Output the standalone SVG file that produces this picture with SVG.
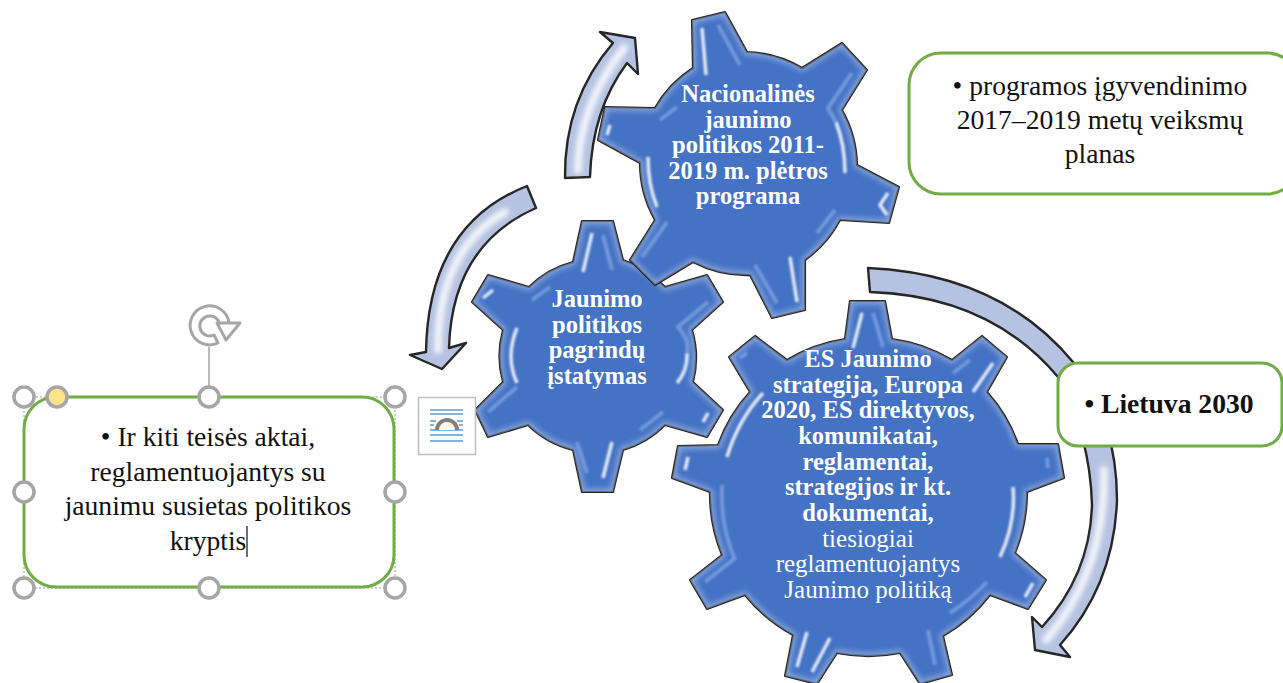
<svg xmlns="http://www.w3.org/2000/svg" width="1283" height="683" viewBox="0 0 1283 683">
<style>
.gear{fill:#4472c4;stroke:#262626;stroke-width:2.2;stroke-linejoin:round}
.glow{fill:none;stroke:#b9cdf0;stroke-width:6;filter:url(#b3);opacity:.65}
.hw{fill:none;stroke:#fff;stroke-width:3.500;stroke-linecap:butt;filter:url(#b1);opacity:.85}
.hf{fill:none;stroke:#86a9e6;stroke-width:4;stroke-linecap:butt;filter:url(#b1);opacity:.7}
.arrow{fill:#b5c2e1;stroke:#262626;stroke-width:2.4;stroke-linejoin:round}
.sheen{fill:none;stroke:#f7f9fd;stroke-width:8;stroke-linecap:round;filter:url(#b2);opacity:.9}
.box{fill:#fff;stroke:#70ad47;stroke-width:3}
.gt{font-family:"Liberation Serif","Times New Roman",serif;font-size:24.5px;fill:#fff;text-anchor:middle}
.bold{font-weight:bold}
.bt{font-family:"Liberation Serif","Times New Roman",serif;font-size:27.6px;fill:#111;text-anchor:middle}
.handle{fill:#fff;stroke:#a6a6a6;stroke-width:3.5}
.wrapl{stroke:#5b9bd5;stroke-width:1.5;fill:none}
</style>
<defs>
<filter id="b1" x="-50%" y="-50%" width="200%" height="200%"><feGaussianBlur stdDeviation="0.8"/></filter>
<filter id="b2" x="-30%" y="-30%" width="160%" height="160%"><feGaussianBlur stdDeviation="2.5"/></filter>
<filter id="b3" x="-10%" y="-10%" width="120%" height="120%"><feGaussianBlur stdDeviation="3"/></filter>
<path id="p1" d="M692,20 L725,12 L747,52 A116,116 0 0 1 802,68 L842,43 L867,70 L842,110 A116,116 0 0 1 857,165 L899,187 L889,223 L840,220 A116,116 0 0 1 805,260 L805,310 L772,318 L750,275 A116,116 0 0 1 693,262 L655,285 L630,260 L655,220 A116,116 0 0 1 640,163 L598,140 L605,107 L655,108 A116,116 0 0 1 693,68 Z"/>
<path id="p2" d="M582,221 L613,221 L623,260 A97,97 0 0 1 665,287 L707,275 L723,302 L692,330 A97,97 0 0 1 693,382 L723,410 L707,437 L665,425 A97,97 0 0 1 623,450 L613,492 L582,492 L573,450 A97,97 0 0 1 528,425 L488,437 L475,410 L503,382 A97,97 0 0 1 503,330 L472,302 L488,275 L529,287 A97,97 0 0 1 573,262 Z"/>
<path id="p3" d="M850,301 L885,301 L892,339 A155,155 0 0 1 952,360 L982,336 L1007,357 L987,392 A155,155 0 0 1 1018,444 L1058,444 L1064,478 L1027,492 A160,160 0 0 1 1015,553 L1046,580 L1028,609 L990,595 A160,160 0 0 1 943,636 L952,675 L920,684 L900,653 A160,160 0 0 1 837,653 L817,684 L785,676 L793,635 A160,160 0 0 1 745,595 L707,609 L690,580 L722,555 A160,160 0 0 1 710,492 L672,478 L678,446 L718,445 A155,155 0 0 1 750,392 L729,357 L755,336 L787,360 A155,155 0 0 1 845,339 Z"/>
<clipPath id="c1"><use href="#p1"/></clipPath>
<clipPath id="c2"><use href="#p2"/></clipPath>
<clipPath id="c3"><use href="#p3"/></clipPath>
</defs>
<rect width="1283" height="683" fill="#fff"/>
<g id="connectors">
<g id="arrow-up">
<path class="arrow" d="M565,178 Q564,100 613,43 L600,32 L635,38 L638,74 L627,63 Q592,110 590,177 Z"/>
<path class="sheen" d="M578,170 Q578,108 624,48"/>
</g>
<g id="arrow-down">
<path class="arrow" d="M527,186 Q428,225 426,352 L410,355 L442,369 L466,343 L449,348 Q452,245 536,208 Z"/>
<path class="sheen" d="M505,212 Q438,250 438,350"/>
</g>
<g id="arrow-cycle">
<path class="arrow" d="M868,268 Q1000,274 1073,362 Q1117,420 1117,500 Q1114,585 1060,645 L1070,657 L1035,650 L1032,617 L1042,627 Q1090,575 1092,505 Q1090,435 1058,377 Q990,296 870,292 Z"/>
<path class="sheen" d="M1104,470 Q1106,570 1046,640" stroke-width="7"/>
</g>
</g>
<g id="gear-es">
<use href="#p3" class="gear"/>
<g clip-path="url(#c3)"><use href="#p3" class="glow"/></g>
<path class="hw" d="M862,313 L853,348 M993,363 L973,392 M1013,487 Q1016,523 1000,557 M1033,583 L1025,597 M830,638 L812,672 M807,632 L797,667 M763,393 Q738,420 727,457 M688,457 L685,470"/>
<path class="hf" d="M873,313 L883,347 M970,360 L953,373 M987,582 Q970,600 950,613 M928,630 L935,665 M735,558 L705,582 M722,485 Q720,525 735,560 M747,353 L740,358 M1047,458 L1048,468"/>
<text class="gt"><tspan class="bold" x="868" y="367">ES Jaunimo</tspan><tspan class="bold" x="868" y="392.700">strategija, Europa</tspan><tspan class="bold" x="868" y="418.300">2020, ES direktyvos,</tspan><tspan class="bold" x="868" y="444">komunikatai,</tspan><tspan class="bold" x="868" y="469.700">reglamentai,</tspan><tspan class="bold" x="868" y="495.300">strategijos ir kt.</tspan><tspan class="bold" x="868" y="521">dokumentai,</tspan><tspan x="868" y="546.700" font-size="25">tiesiogiai</tspan><tspan x="868" y="572.300" font-size="25">reglamentuojantys</tspan><tspan x="868" y="598" font-size="25">Jaunimo politiką</tspan></text>
</g>
<g id="gear-pagrindu">
<use href="#p2" class="gear"/>
<g clip-path="url(#c2)"><use href="#p2" class="glow"/></g>
<path class="hw" d="M592,233 L583,272 M687,353 Q688,370 677,383 M708,413 L703,422 M612,442 L603,478 M517,328 Q505,357 517,383 M493,290 L483,298"/>
<path class="hf" d="M603,235 L612,270 M708,302 L678,327 Q690,340 687,353 M663,412 L640,430 M577,442 L587,473 M517,387 L488,412 M532,300 L550,287"/>
<text class="gt bold"><tspan x="597" y="307">Jaunimo</tspan><tspan x="597" y="332.700">politikos</tspan><tspan x="597" y="358.400">pagrindų</tspan><tspan x="597" y="384">įstatymas</tspan></text>
</g>
<g id="gear-nacionalines">
<use href="#p1" class="gear"/>
<g clip-path="url(#c1)"><use href="#p1" class="glow"/></g>
<path class="hw" d="M702,28 L706,75 M610,125 L607,135 M648,157 Q648,185 657,207 M790,257 L797,302 M888,193 L880,205 L887,215 M836,122 Q845,145 845,173"/>
<path class="hf" d="M718,25 L740,65 M852,73 L828,108 L836,122 M660,120 L677,107 M667,222 L642,257 M835,210 L817,233 M755,265 L777,303"/>
<text class="gt bold"><tspan x="748" y="102">Nacionalinės</tspan><tspan x="748" y="127.500">jaunimo</tspan><tspan x="748" y="153">politikos 2011-</tspan><tspan x="748" y="178.500">2019 m. plėtros</tspan><tspan x="748" y="204">programa</tspan></text>
</g>
<g id="box-programos">
<rect class="box" x="909" y="53" width="390" height="141" rx="32"/>
<text class="bt"><tspan x="1100" y="95">• programos įgyvendinimo</tspan><tspan x="1100" y="129">2017–2019 metų veiksmų</tspan><tspan x="1100" y="163">planas</tspan></text>
</g>
<g id="box-lietuva">
<rect class="box" x="1058" y="363" width="224" height="83" rx="20"/>
<text class="bt bold" x="1169" y="413">• Lietuva 2030</text>
</g>
<g id="box-teises">
<rect x="24" y="397" width="371" height="191" fill="none" stroke="#999" stroke-width="1" stroke-dasharray="2 2"/>
<rect class="box" x="24" y="397" width="370" height="190" rx="32"/>
<text class="bt"><tspan x="208" y="446">• Ir kiti teisės aktai,</tspan><tspan x="208" y="481">reglamentuojantys su</tspan><tspan x="208" y="515">jaunimu susietas politikos</tspan><tspan x="208" y="550">kryptis</tspan></text>
<path d="M247,526 V557" stroke="#111" stroke-width="1.2"/>
</g>
<g id="selection-handles">
<path d="M209,347 V387" stroke="#a6a6a6" stroke-width="1.5"/>
<path d="M229,323 A19.500,19.500 0 1 0 218,343 L214,335 A10,10 0 1 1 219,322" fill="none" stroke="#a6a6a6" stroke-width="3" stroke-linejoin="round"/>
<path d="M217,323 H240 L226,340 Z" fill="#fff" stroke="#a6a6a6" stroke-width="3" stroke-linejoin="round"/>
<circle class="handle" cx="24" cy="397" r="10"/>
<circle class="handle" cx="57" cy="397" r="10" style="fill:#ffe38a"/>
<circle class="handle" cx="209" cy="397" r="10"/>
<circle class="handle" cx="395" cy="397" r="10"/>
<circle class="handle" cx="24" cy="492" r="10"/>
<circle class="handle" cx="395" cy="492" r="10"/>
<circle class="handle" cx="24" cy="588" r="10"/>
<circle class="handle" cx="209" cy="588" r="10"/>
<circle class="handle" cx="395" cy="588" r="10"/>
</g>
<g id="layout-options">
<rect x="418.500" y="397.500" width="57" height="57" fill="#fff" stroke="#bfbfbf" stroke-width="1.500"/>
<path class="wrapl" d="M430,410 H463 M430,414 H463 M430,421 H436 M457,421 H463 M430,425 H434 M459,425 H463 M430,430 H463 M430,435 H463 M430,441 H463"/>
<path d="M437,430 A10,10 0 0 1 457,430" fill="#fff" stroke="#7f7f7f" stroke-width="4"/>
</g>
</svg>
